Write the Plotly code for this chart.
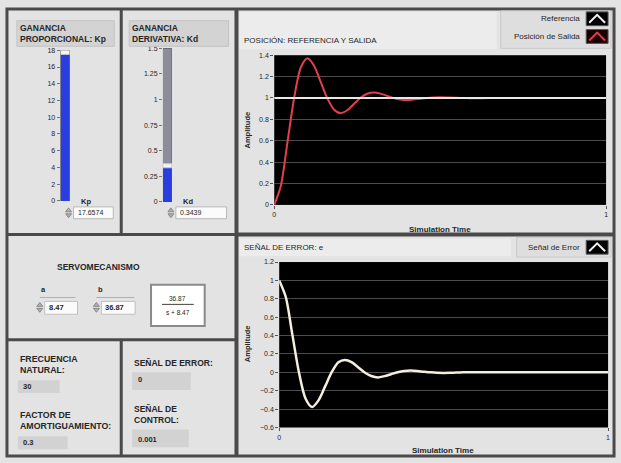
import plotly.graph_objects as go

W, H = 621, 463

# ---------------- data ----------------
time = [0.00, 0.02, 0.04, 0.06, 0.08, 0.10, 0.12, 0.14, 0.16, 0.18, 0.20, 0.22,
        0.24, 0.26, 0.28, 0.30, 0.32, 0.34, 0.36, 0.38, 0.40, 0.42, 0.44, 0.46,
        0.48, 0.50, 0.52, 0.54, 0.56, 0.58, 0.60, 0.65, 0.70, 0.80, 0.90, 1.00]

posicion_salida = [0.000, 0.180, 0.590, 1.000, 1.285, 1.372, 1.302, 1.150, 0.996,
                   0.893, 0.858, 0.885, 0.944, 1.002, 1.040, 1.051, 1.041, 1.020,
                   0.999, 0.985, 0.980, 0.985, 0.993, 1.000, 1.005, 1.006, 1.005,
                   1.003, 1.000, 0.999, 0.998, 0.999, 1.000, 1.000, 1.000, 1.000]

senal_error = [1.000, 0.820, 0.410, 0.000, -0.285, -0.378, -0.302, -0.150, 0.004,
               0.110, 0.135, 0.112, 0.056, -0.002, -0.040, -0.055, -0.041, -0.020,
               0.001, 0.015, 0.020, 0.015, 0.007, 0.000, -0.005, -0.006, -0.005,
               -0.003, 0.000, 0.001, 0.002, 0.001, 0.000, 0.000, 0.000, 0.000]

ref_time = [0.0, 1.0]
referencia = [1.0, 1.0]

kp_value = 17.6574
kp_max = 18
kp_ticks = [0, 2, 4, 6, 8, 10, 12, 14, 16, 18]
kd_value = 0.3439
kd_max = 1.5
kd_ticks = [0, 0.25, 0.5, 0.75, 1, 1.25, 1.5]
kd_ticklabels = ["0", "0.25", "0.5", "0.75", "1", "1.25", "1.5"]

servo_a = "8.47"
servo_b = "36.87"
frecuencia_natural = "30"
factor_amortiguamiento = "0.3"
senal_error_val = "0"
senal_control_val = "0.001"

FONT = "Liberation Sans"
TXT = "#262626"


def X(p):
    return p / W


def Y(p):
    return 1 - p / H


shapes = []
annotations = []


def rect(x0, y0, x1, y1, fill=None, line="#4a4a4a", width=0):
    shapes.append(dict(type="rect", xref="paper", yref="paper",
                       x0=X(x0), x1=X(x1), y0=Y(y1), y1=Y(y0),
                       fillcolor=fill if fill else "rgba(0,0,0,0)",
                       line=dict(color=line, width=width), layer="above"))


def line(x0, y0, x1, y1, color="#4a4a4a", width=3):
    shapes.append(dict(type="line", xref="paper", yref="paper",
                       x0=X(x0), x1=X(x1), y0=Y(y0), y1=Y(y1),
                       line=dict(color=color, width=width), layer="above"))


def path(pts, color, width=2, fill=None):
    d = "M " + " L ".join(f"{X(px):.5f},{Y(py):.5f}" for px, py in pts)
    if fill:
        d += " Z"
    shapes.append(dict(type="path", xref="paper", yref="paper", path=d,
                       line=dict(color=color, width=width),
                       fillcolor=fill if fill else "rgba(0,0,0,0)", layer="above"))


def ann(text, x, y, size=7, bold=False, xanchor="left", color=TXT, angle=0):
    if bold:
        text = "<b>" + text.replace("<br>", "</b><br><b>") + "</b>"
    annotations.append(dict(text=text, x=X(x), y=Y(y), xref="paper", yref="paper",
                            xanchor=xanchor, yanchor="middle", showarrow=False,
                            textangle=angle, align="left",
                            font=dict(family=FONT, size=size, color=color)))


def spinner(x, y):
    # small up/down arrow control
    path([(x, y - 1), (x + 3, y - 5), (x + 6, y - 1)], "#8a8a8a", 1, fill="#b0b0b0")
    path([(x, y + 1), (x + 3, y + 5), (x + 6, y + 1)], "#8a8a8a", 1, fill="#b0b0b0")


# ---------------- panel frames ----------------
rect(5, 5, 616, 459, line="#4a4a4a", width=3)
line(236, 5, 236, 459, width=4)
line(120, 5, 120, 234)
line(5, 234, 236, 234)
line(5, 341, 236, 341)
line(120, 341, 120, 459)
line(236, 234, 616, 234, width=4)

# header boxes of sliders
rect(15, 17, 113, 43, fill="#d3d3d3", line="#c4c4c4", width=1)
rect(128, 17, 228, 43, fill="#d3d3d3", line="#c4c4c4", width=1)
ann("GANANCIA<br>PROPORCIONAL: Kp", 16, 30, size=8.5, bold=True)
ann("GANANCIA<br>DERIVATIVA: Kd", 129, 30, size=8.5, bold=True)

# slider labels & numeric controls
ann("Kp", 78, 201, size=7.5, bold=True)
ann("Kd", 180, 201, size=7.5, bold=True)
rect(72, 206, 112, 218, fill="#fbfbfb", line="#b8b8b8", width=1)
rect(175, 206, 226, 218, fill="#fbfbfb", line="#b8b8b8", width=1)
ann(f"{kp_value:.4f}", 74, 212, size=7)
ann(f"{kd_value:.4f}", 177, 212, size=7)
spinner(64, 212)
spinner(167, 212)

# chart headers
rect(239, 8, 498, 46, fill="#ececec", line="#ececec", width=0)
rect(502, 7, 613, 45, fill="#dedede", line="#c8c8c8", width=1)
ann("POSICIÓN: REFERENCIA Y SALIDA", 242, 37, size=8)
ann("Referencia", 584, 15, size=8, xanchor="right")
ann("Posición de Salida", 584, 33, size=8, xanchor="right")
rect(588, 8, 610, 22, fill="#000000", line="#555555", width=1)
path([(591, 19), (599, 11), (607, 19)], "#f2f2f2", 2)
rect(588, 26, 610, 40, fill="#1a0000", line="#555555", width=1)
path([(591, 37), (599, 29), (607, 37)], "#e0404a", 2)

rect(239, 238, 512, 256, fill="#ececec", line="#ececec", width=0)
rect(518, 237, 613, 257, fill="#dedede", line="#c8c8c8", width=1)
ann("SEÑAL DE ERROR: e", 242, 247, size=8)
ann("Señal de Error", 584, 247, size=8, xanchor="right")
rect(588, 240, 610, 254, fill="#000000", line="#555555", width=1)
path([(591, 251), (599, 243), (607, 251)], "#f2f2f2", 2)

# axis titles
ann("Amplitude", 247, 128, size=7.5, bold=True, xanchor="center", angle=-90)
ann("Simulation Time", 441, 229, size=8, bold=True, xanchor="center")
ann("Amplitude", 247, 345, size=7.5, bold=True, xanchor="center", angle=-90)
ann("Simulation Time", 444, 453, size=8, bold=True, xanchor="center")

# servomecanismo panel
ann("SERVOMECANISMO", 97, 267, size=8.5, bold=True, xanchor="center")
ann("a", 42, 290, size=7.5, bold=True, xanchor="center")
ann("b", 99, 290, size=7.5, bold=True, xanchor="center")
line(38, 298, 74, 298, color="#b0b0b0", width=1)
line(95, 298, 133, 298, color="#b0b0b0", width=1)
rect(43, 302, 76, 315, fill="#fbfbfb", line="#c0c0c0", width=1)
rect(100, 302, 134, 315, fill="#fbfbfb", line="#c0c0c0", width=1)
ann(servo_a, 45, 308.5, size=7.5, bold=True)
ann(servo_b, 102, 308.5, size=7.5, bold=True)
spinner(35, 308)
spinner(92, 308)
rect(150, 285, 204, 327, fill="#ffffff", line="#8a8a8a", width=2)
ann(servo_b, 177, 299, size=6.5, xanchor="center")
line(161, 305, 193, 305, color="#444444", width=1)
ann("s + " + servo_a, 177, 313, size=6.5, xanchor="center")

# bottom-left indicators
ann("FRECUENCIA<br>NATURAL:", 16, 366, size=8.8, bold=True)
rect(16, 382, 58, 395, fill="#d2d2d2", line="#d2d2d2", width=0)
ann(frecuencia_natural, 19, 388.5, size=7.5, bold=True)
ann("FACTOR DE<br>AMORTIGUAMIENTO:", 16, 423, size=8.8, bold=True)
rect(16, 439, 66, 452, fill="#d2d2d2", line="#d2d2d2", width=0)
ann(factor_amortiguamiento, 19, 445.5, size=7.5, bold=True)

ann("SEÑAL DE ERROR:", 131, 365, size=8.5, bold=True)
rect(131, 374, 190, 392, fill="#d2d2d2", line="#d2d2d2", width=0)
ann(senal_error_val, 135, 381, size=7.5, bold=True)
ann("SEÑAL DE<br>CONTROL:", 131, 417, size=8.5, bold=True)
rect(131, 432, 188, 450, fill="#d2d2d2", line="#d2d2d2", width=0)
ann(senal_control_val, 135, 442, size=7.5, bold=True)

# slider thumbs (in data coordinates of the slide axes)
shapes.append(dict(type="rect", xref="x3", yref="y3", x0=-0.5, x1=0.5,
                   y0=kp_value - 0.15, y1=kp_value + 0.35, fillcolor="#f4f4f4",
                   line=dict(color="#c8c8c8", width=1), layer="above"))
shapes.append(dict(type="rect", xref="x4", yref="y4", x0=-0.5, x1=0.5,
                   y0=kd_value - 0.01, y1=kd_value + 0.03, fillcolor="#f4f4f4",
                   line=dict(color="#c8c8c8", width=1), layer="above"))

# ---------------- traces ----------------
fig = go.Figure()

fig.add_trace(go.Scatter(x=time, y=posicion_salida, mode="lines",
                         line=dict(color="#e2404c", width=2, shape="spline", smoothing=0.8),
                         name="Posición de Salida", xaxis="x", yaxis="y"))
fig.add_trace(go.Scatter(x=ref_time, y=referencia, mode="lines",
                         line=dict(color="#e8e8e8", width=2),
                         name="Referencia", xaxis="x", yaxis="y"))
fig.add_trace(go.Scatter(x=time, y=senal_error, mode="lines",
                         line=dict(color="#f3efdc", width=2.5, shape="spline", smoothing=0.8),
                         name="Señal de Error", xaxis="x2", yaxis="y2"))

# sliders as bars
fig.add_trace(go.Bar(x=[0], y=[kp_max], width=1, marker=dict(color="#8c8c9c", line=dict(width=0)),
                     xaxis="x3", yaxis="y3", hoverinfo="skip"))
fig.add_trace(go.Bar(x=[0], y=[kp_value], width=1, marker=dict(color="#2a3ee0", line=dict(width=0)),
                     name="Kp", xaxis="x3", yaxis="y3"))
fig.add_trace(go.Bar(x=[0], y=[kd_max], width=1, marker=dict(color="#8c8c9c", line=dict(width=0)),
                     xaxis="x4", yaxis="y4", hoverinfo="skip"))
fig.add_trace(go.Bar(x=[0], y=[kd_value], width=1, marker=dict(color="#2a3ee0", line=dict(width=0)),
                     name="Kd", xaxis="x4", yaxis="y4"))

tickfont = dict(family=FONT, size=7, color=TXT)
grid = "#4b4b4b"

fig.update_layout(
    width=W, height=H,
    margin=dict(l=0, r=0, t=0, b=0),
    paper_bgcolor="#e3e3e3",
    plot_bgcolor="#000000",
    showlegend=False,
    barmode="overlay",
    shapes=shapes,
    annotations=annotations,
    xaxis=dict(domain=[X(274), X(608)], range=[0, 1], tickvals=[0, 1], anchor="y",
               showgrid=False, zeroline=False, ticks="outside", ticklen=3,
               tickcolor="#555", tickfont=tickfont),
    yaxis=dict(domain=[Y(204), Y(52)], range=[0, 1.4], dtick=0.2, anchor="x",
               showgrid=True, gridcolor=grid, gridwidth=1, zeroline=False,
               ticks="outside", ticklen=3, tickcolor="#555", tickfont=tickfont),
    xaxis2=dict(domain=[X(279), X(610)], range=[0, 1], tickvals=[0, 1], anchor="y2",
                showgrid=False, zeroline=False, ticks="outside", ticklen=3,
                tickcolor="#555", tickfont=tickfont),
    yaxis2=dict(domain=[Y(430), Y(262)], range=[-0.6, 1.2], dtick=0.2, anchor="x2",
                showgrid=True, gridcolor=grid, gridwidth=1, zeroline=False,
                ticks="outside", ticklen=3, tickcolor="#555", tickfont=tickfont),
    xaxis3=dict(domain=[X(59), X(68)], range=[-0.5, 0.5], visible=False, anchor="y3"),
    yaxis3=dict(domain=[Y(200), Y(47)], range=[0, kp_max], tickvals=kp_ticks, anchor="x3",
                showgrid=False, zeroline=False, ticks="outside", ticklen=3,
                tickcolor="#777", tickfont=tickfont),
    xaxis4=dict(domain=[X(162), X(171)], range=[-0.5, 0.5], visible=False, anchor="y4"),
    yaxis4=dict(domain=[Y(201), Y(45)], range=[0, kd_max], tickvals=kd_ticks,
                ticktext=kd_ticklabels, anchor="x4",
                showgrid=False, zeroline=False, ticks="outside", ticklen=3,
                tickcolor="#777", tickfont=tickfont),
)

fig.write_html("out.html", config={"displayModeBar": False},
               post_script="document.body.style.margin='0';")
